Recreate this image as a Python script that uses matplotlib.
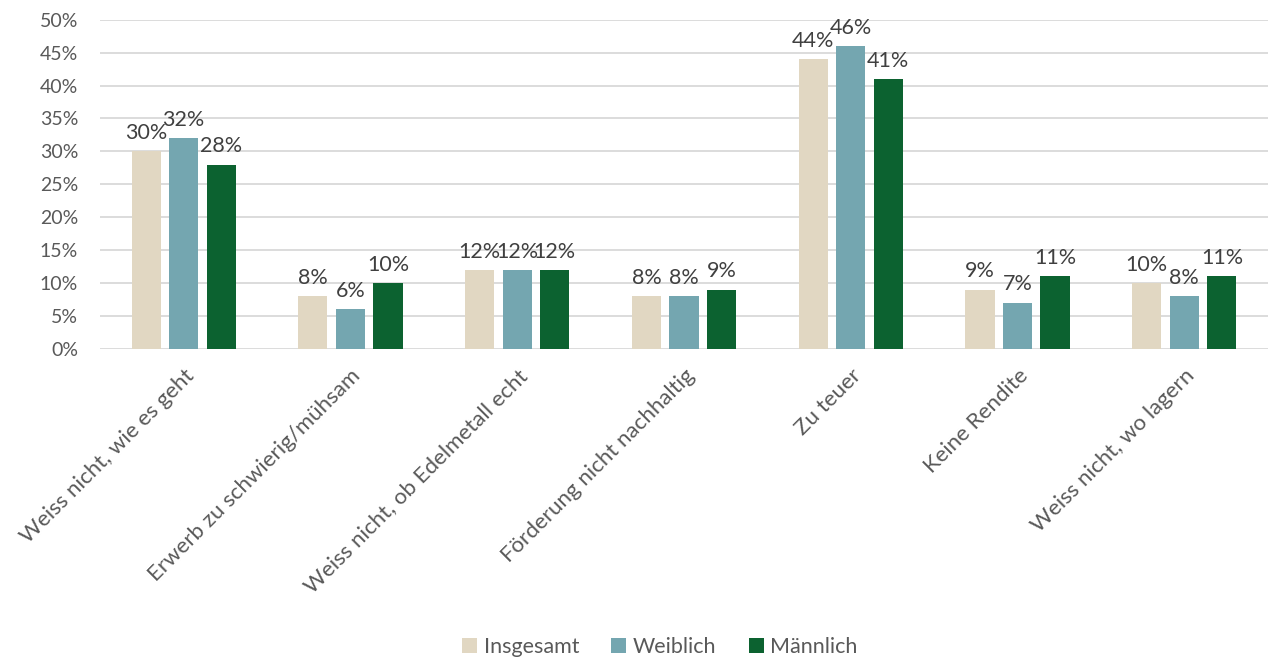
import numpy as np
import matplotlib
matplotlib.use("Agg")
from matplotlib import pyplot as plt
from matplotlib.ticker import FuncFormatter

categories = ["Weiss nicht, wie es geht", "Erwerb zu schwierig/mühsam",
              "Weiss nicht, ob Edelmetall echt", "Förderung nicht nachhaltig",
              "Zu teuer", "Keine Rendite", "Weiss nicht, wo lagern"]
insgesamt = [30, 8, 12, 8, 44, 9, 10]
weiblich = [32, 6, 12, 8, 46, 7, 8]
maennlich = [28, 10, 12, 9, 41, 11, 11]
series_names = ["Insgesamt", "Weiblich", "Männlich"]
colors = ["#E1D7C2", "#74A6B0", "#0C6230"]

plt.rcParams['font.family'] = ['Lato', 'DejaVu Sans']

fig = plt.figure(figsize=(12.69, 6.57), dpi=100)
ax = fig.add_axes([0.079, 0.469, 0.92, 0.501])

x = np.arange(len(categories))
width = 0.175
step = 0.225
for i, (vals, name, col) in enumerate(zip([insgesamt, weiblich, maennlich], series_names, colors)):
    pos = x + (i - 1) * step
    ax.bar(pos, vals, width, color=col, label=name, zorder=3)
    for p, v in zip(pos, vals):
        ax.annotate(f"{v}%", (p, v), xytext=(0, 6), textcoords="offset points",
                    ha="center", va="bottom", fontsize=15.5, color="#404040")

ax.set_ylim(0, 50)
ax.set_xlim(-0.5, len(categories) - 0.5)
ax.set_yticks(range(0, 51, 5))
ax.yaxis.set_major_formatter(FuncFormatter(lambda v, _: f"{int(v)}%"))
ax.grid(axis="y", color="#D9D9D9", linewidth=1.3, zorder=0)
for s in ax.spines.values():
    s.set_visible(False)
ax.tick_params(axis="y", length=0, labelsize=14, labelcolor="#595959", pad=16)
ax.set_xticks(x)
ax.set_xticklabels(categories, rotation=45, ha="right", rotation_mode="anchor")
ax.tick_params(axis="x", length=0, labelsize=16, labelcolor="#595959", pad=12)

fig.legend(loc="lower center", bbox_to_anchor=(0.52, -0.03), ncol=3, frameon=False,
           fontsize=15.5, handlelength=0.7, handleheight=0.7, handletextpad=0.3,
           columnspacing=1.5, labelcolor="#595959")

fig.savefig("out.png", dpi=100)
